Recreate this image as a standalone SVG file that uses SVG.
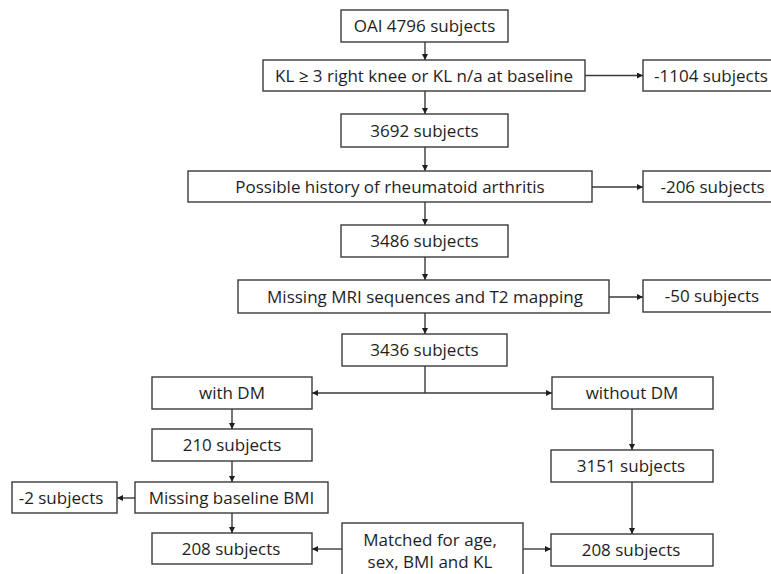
<svg xmlns="http://www.w3.org/2000/svg" width="771" height="574" viewBox="0 0 771 574">
<style>
.box{fill:#fff;stroke:#3a3a3a;stroke-width:1.4}
.t{font-family:"Open Sans","Liberation Sans",sans-serif;font-size:17px;fill:#1e1e1e;text-anchor:middle}
.c{fill:none;stroke:#3a3a3a;stroke-width:1.4}
</style>
<defs>
<marker id="ah" markerUnits="userSpaceOnUse" markerWidth="7" markerHeight="6" refX="6" refY="3" orient="auto">
<path d="M0,0 L6,3 L0,6 z" fill="#1e1e1e"/>
</marker>
<marker id="ahs" markerUnits="userSpaceOnUse" markerWidth="7" markerHeight="6" refX="0" refY="3" orient="auto">
<path d="M6,0 L0,3 L6,6 z" fill="#1e1e1e"/>
</marker>
</defs>
<rect width="771" height="574" fill="#fff"/>
<g id="connectors">
<path class="c" d="M425,42 V60" marker-end="url(#ah)"/>
<path class="c" d="M585,75.5 H643" marker-end="url(#ah)"/>
<path class="c" d="M425,91 V114" marker-end="url(#ah)"/>
<path class="c" d="M425,147 V171" marker-end="url(#ah)"/>
<path class="c" d="M592,187 H643" marker-end="url(#ah)"/>
<path class="c" d="M425,202 V225" marker-end="url(#ah)"/>
<path class="c" d="M425,257 V280" marker-end="url(#ah)"/>
<path class="c" d="M609,297 H643" marker-end="url(#ah)"/>
<path class="c" d="M425,313 V334" marker-end="url(#ah)"/>
<path class="c" d="M425,366 V393"/>
<path class="c" d="M312,393 H552" marker-start="url(#ahs)" marker-end="url(#ah)"/>
<path class="c" d="M232,409 V429" marker-end="url(#ah)"/>
<path class="c" d="M232,461 V482" marker-end="url(#ah)"/>
<path class="c" d="M135,498 H117" marker-end="url(#ah)"/>
<path class="c" d="M232,513 V533" marker-end="url(#ah)"/>
<path class="c" d="M632,409 V450" marker-end="url(#ah)"/>
<path class="c" d="M632,482 V534" marker-end="url(#ah)"/>
<path class="c" d="M342,549 H312" marker-end="url(#ah)"/>
<path class="c" d="M523,549 H551" marker-end="url(#ah)"/>
</g>
<g id="n1"><rect class="box" x="341" y="10" width="167" height="32"/><text class="t" x="424.5" y="32">OAI 4796 subjects</text></g>
<g id="n2"><rect class="box" x="263" y="60" width="322" height="31"/><text class="t" x="424" y="81.5">KL ≥ 3 right knee or KL n/a at baseline</text></g>
<g id="n3"><rect class="box" x="643" y="60" width="135" height="31"/><text class="t" x="711" y="81.5">-1104 subjects</text></g>
<g id="n4"><rect class="box" x="341" y="114" width="167" height="33"/><text class="t" x="424.5" y="136.5">3692 subjects</text></g>
<g id="n5"><rect class="box" x="188" y="171" width="404" height="31"/><text class="t" x="390" y="192.5">Possible history of rheumatoid arthritis</text></g>
<g id="n6"><rect class="box" x="643" y="171" width="135" height="31"/><text class="t" x="712.5" y="192.5">-206 subjects</text></g>
<g id="n7"><rect class="box" x="341" y="225" width="167" height="32"/><text class="t" x="424.5" y="247">3486 subjects</text></g>
<g id="n8"><rect class="box" x="238" y="280" width="371" height="33"/><text class="t" x="425" y="302.5">Missing MRI sequences and T2 mapping</text></g>
<g id="n9"><rect class="box" x="643" y="280" width="135" height="32"/><text class="t" x="712" y="302">-50 subjects</text></g>
<g id="n10"><rect class="box" x="342" y="334" width="165" height="32"/><text class="t" x="424.5" y="356">3436 subjects</text></g>
<g id="n11"><rect class="box" x="152" y="377" width="160" height="32"/><text class="t" x="232" y="399">with DM</text></g>
<g id="n12"><rect class="box" x="552" y="377" width="161" height="32"/><text class="t" x="632" y="399">without DM</text></g>
<g id="n13"><rect class="box" x="152" y="429" width="160" height="32"/><text class="t" x="232" y="451">210 subjects</text></g>
<g id="n14"><rect class="box" x="135" y="482" width="193" height="31"/><text class="t" x="231.5" y="503.5">Missing baseline BMI</text></g>
<g id="n15"><rect class="box" x="12" y="482" width="105" height="31"/><text class="t" x="61" y="503.5">-2 subjects</text></g>
<g id="n16"><rect class="box" x="152" y="533" width="160" height="31"/><text class="t" x="231" y="554.5">208 subjects</text></g>
<g id="n17"><rect class="box" x="551" y="450" width="162" height="32"/><text class="t" x="631" y="472">3151 subjects</text></g>
<g id="n18"><rect class="box" x="551" y="534" width="162" height="32"/><text class="t" x="631" y="556">208 subjects</text></g>
<g id="n19"><rect class="box" x="342" y="523" width="181" height="60"/><text class="t" x="430" y="546">Matched for age,</text><text class="t" x="430" y="568">sex, BMI and KL</text></g>
</svg>
